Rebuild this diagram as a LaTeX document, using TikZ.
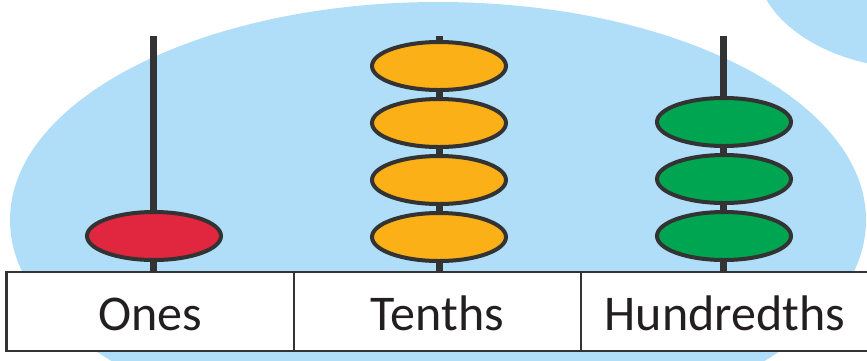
\documentclass[tikz,border=0pt]{standalone}
\usepackage{fontspec}
\setmainfont{Carlito}
\usetikzlibrary{shapes.geometric}
\definecolor{blobBlue}{HTML}{B0DEF8}
\definecolor{rodGrey}{HTML}{333333}
\definecolor{labelGrey}{HTML}{231F20}
\definecolor{beadRed}{HTML}{E0273F}
\definecolor{beadOrange}{HTML}{FBB017}
\definecolor{beadGreen}{HTML}{00A551}

\begin{document}
\begin{tikzpicture}[x=1pt,y=-1pt,
  rod/.style={line width=7pt,draw=rodGrey},
  bead/.style={ellipse,draw=rodGrey,line width=4pt,minimum width=134pt,minimum height=48pt,inner sep=0pt},
  grid/.style={line width=2.5pt,draw=rodGrey},
  cell/.style={font=\fontsize{50}{56}\selectfont,text=labelGrey,anchor=base}]
\useasboundingbox (0,0) rectangle (867,360);
% background blobs
\begin{scope}
\clip (0,0) rectangle (867,360);
\fill[blobBlue] (438,220) ellipse [x radius=428pt,y radius=218pt];
\fill[blobBlue] (920,-40) ellipse [x radius=165pt,y radius=109pt];
\end{scope}
% rods
\coordinate (onesTop) at (153.5,36);
\coordinate (onesFoot) at (153.5,272);
\coordinate (tenthsTop) at (439.5,36);
\coordinate (tenthsFoot) at (439.5,272);
\coordinate (hundTop) at (723.5,36);
\coordinate (hundFoot) at (723.5,272);
\draw[rod] (onesTop) -- (onesFoot);
\draw[rod] (tenthsTop) -- (tenthsFoot);
\draw[rod] (hundTop) -- (hundFoot);
% beads
\node[bead,fill=beadRed] (one1) at (154,236) {};
\node[bead,fill=beadOrange] (tenth1) at (439,237) {};
\node[bead,fill=beadOrange] (tenth2) at (439,180) {};
\node[bead,fill=beadOrange] (tenth3) at (439,123) {};
\node[bead,fill=beadOrange] (tenth4) at (439,66) {};
\node[bead,fill=beadGreen] (hund1) at (724,236) {};
\node[bead,fill=beadGreen] (hund2) at (724,179) {};
\node[bead,fill=beadGreen] (hund3) at (724,122) {};
% place value table
\coordinate (tabNW) at (6.5,272);
\coordinate (tabSE) at (880,351);
\coordinate (div1Top) at (294,272);
\coordinate (div1Bot) at (294,351);
\coordinate (div2Top) at (581,272);
\coordinate (div2Bot) at (581,351);
\filldraw[grid,fill=white] (tabNW) rectangle (tabSE);
\draw[grid] (div1Top) -- (div1Bot);
\draw[grid] (div2Top) -- (div2Bot);
\node[cell] (ones) at (150,330) {Ones};
\node[cell] (tenths) at (437.5,330) {Tenths};
\node[cell] (hundredths) at (725,330) {Hundredths};
\end{tikzpicture}
\end{document}
